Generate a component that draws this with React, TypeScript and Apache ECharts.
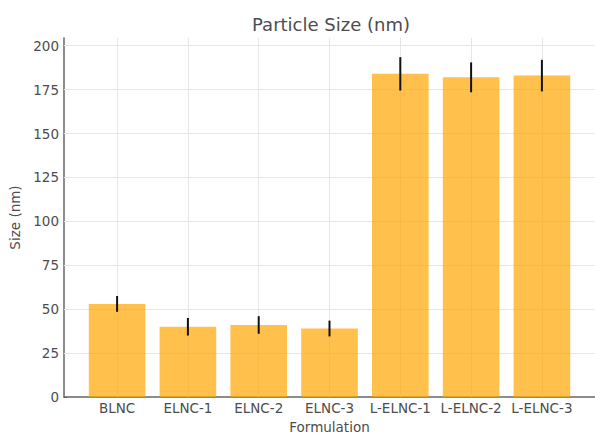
import React, { useEffect, useRef } from "react";
import * as echarts from "echarts";

// Formulations and their measured particle size (mean ± SD, nm)
const categories = ["BLNC", "ELNC-1", "ELNC-2", "ELNC-3", "L-ELNC-1", "L-ELNC-2", "L-ELNC-3"];
const sizes = [53, 40, 41, 39, 184, 182, 183];
const errors = [4.5, 5, 5, 4.5, 9.5, 8.5, 9];
const yTicks = [0, 25, 50, 75, 100, 125, 150, 175, 200];

const FONT = "DejaVu Sans";
const TEXT = "#4d4d4d";
const GRID = "#e6e6e6";

export default function App() {
  const ref = useRef<HTMLDivElement>(null);

  useEffect(() => {
    if (!ref.current) return;
    const chart = echarts.init(ref.current, undefined, { renderer: "svg" });
    const idx = categories.map((_, i) => i);

    chart.setOption({
      animation: false,
      backgroundColor: "#ffffff",
      textStyle: { fontFamily: FONT },
      title: {
        text: "Particle Size (nm)",
        left: 326,
        top: 10,
        textAlign: "center",
        textStyle: { fontFamily: FONT, fontSize: 18, fontWeight: "normal", color: TEXT },
      },
      grid: { left: 64, right: 0, top: 38, bottom: 37, containLabel: false, outerBoundsMode: "none" },
      xAxis: {
        type: "value",
        min: -0.75,
        max: 6.75,
        name: "Formulation",
        nameLocation: "middle",
        nameGap: 18,
        nameTextStyle: { fontFamily: FONT, fontSize: 13.5, color: TEXT },
        axisLine: { show: true, onZero: false, lineStyle: { color: "#666", width: 1.5 } },
        axisTick: { show: true, inside: true, length: 3, customValues: idx, lineStyle: { color: "#666" } },
        axisLabel: {
          customValues: idx,
          formatter: (v: number) => categories[Math.round(v)] ?? "",
          fontFamily: FONT,
          fontSize: 13.5,
          color: TEXT,
          margin: 4,
        },
        splitLine: { show: false },
      },
      yAxis: {
        type: "value",
        min: 0,
        max: 204.4,
        name: "Size (nm)",
        nameLocation: "middle",
        nameGap: 36,
        nameTextStyle: { fontFamily: FONT, fontSize: 13.5, color: TEXT },
        axisLine: { show: true, onZero: false, lineStyle: { color: "#666", width: 1.5 } },
        axisTick: { show: true, inside: true, length: 3, customValues: yTicks, lineStyle: { color: "#666" } },
        axisLabel: { customValues: yTicks, fontFamily: FONT, fontSize: 13.5, color: TEXT, margin: 5 },
        splitLine: { show: false },
      },
      series: [
        {
          type: "bar",
          z: 2,
          barWidth: 56.6,
          data: sizes.map((v, i) => [i, v]),
          itemStyle: { color: "rgba(255,165,0,0.7)" },
          markLine: {
            silent: true,
            z: 1,
            symbol: ["none", "none"],
            label: { show: false },
            lineStyle: { color: GRID, type: "solid", width: 1 },
            data: [
              ...yTicks.slice(1).map((v) => ({ yAxis: v })),
              ...idx.map((i) => ({ xAxis: i })),
            ],
          },
        },
        {
          type: "custom",
          z: 3,
          data: sizes.map((v, i) => [i, v, errors[i]]),
          encode: { x: 0, y: 1 },
          renderItem: (_params: any, api: any) => {
            const x = api.value(0);
            const v = api.value(1);
            const e = api.value(2);
            const top = api.coord([x, v + e]);
            const bot = api.coord([x, v - e]);
            return {
              type: "line",
              shape: { x1: top[0], y1: top[1], x2: bot[0], y2: bot[1] },
              style: { stroke: "#111", lineWidth: 2 },
            };
          },
        },
      ],
    });

    return () => chart.dispose();
  }, []);

  return (
    <div
      ref={ref}
      style={{ position: "fixed", left: 0, top: 0, width: 595, height: 434, background: "#fff" }}
    />
  );
}
